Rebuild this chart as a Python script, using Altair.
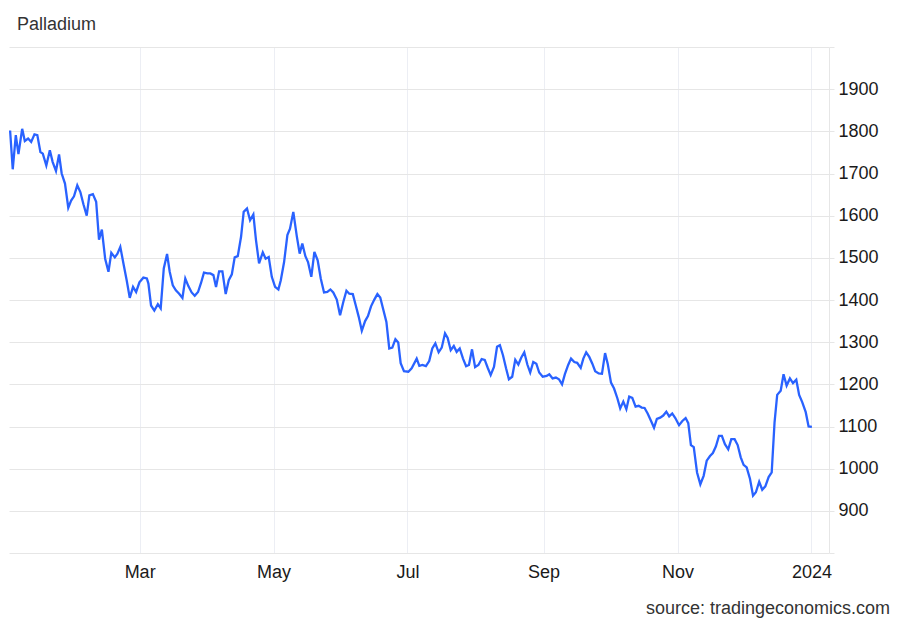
import altair as alt
import pandas as pd

# Day offset from 2023-01-01 and Palladium price (USD/t.oz)
days = [
    0.0, 1.2, 2.6, 3.8, 5.5, 6.7, 8.2, 9.6, 11.1, 12.4, 13.8, 14.9, 16.5, 18.1, 19.4, 20.9,
    22.3, 23.5, 25.0, 26.5, 27.8, 29.1, 30.6, 32.0, 33.4, 34.9, 36.1, 37.7, 39.2, 40.5, 41.8,
    43.3, 44.8, 46.1, 47.7, 48.9, 50.2, 51.8, 53.1, 54.5, 56.0, 57.4, 58.9, 60.7, 62.3, 63.0,
    64.2, 65.7, 67.3, 68.6, 70.0, 71.5, 72.7, 74.1, 75.5, 77.0, 78.5, 79.8, 81.2, 82.7, 84.1,
    85.6, 87.0, 88.3, 89.9, 91.2, 92.6, 93.8, 95.2, 96.7, 98.2, 99.6, 101.0, 102.3, 103.7,
    105.2, 106.4, 107.9, 109.3, 110.8, 112.0, 113.4, 115.1, 116.4, 117.8, 119.2, 120.7, 122.2,
    123.3, 124.8, 126.3, 127.5, 129.0, 130.6, 131.9, 133.1, 134.5, 135.7, 137.2, 138.6, 140.1,
    141.5, 143.0, 144.5, 145.9, 147.2, 148.8, 150.3, 151.8, 153.2, 154.5, 156.1, 157.4, 158.8,
    160.2, 161.7, 163.0, 164.4, 165.9, 167.3, 168.6, 170.0, 171.4, 172.7, 174.1, 175.5, 176.8,
    177.9, 179.4, 181.4, 182.9, 185.2, 186.4, 187.8, 189.4, 190.9, 192.3, 193.7, 195.2, 196.6,
    198.1, 199.3, 200.7, 202.1, 203.4, 204.8, 206.3, 207.7, 209.0, 210.4, 211.8, 213.3, 214.8,
    216.2, 217.5, 218.9, 220.4, 221.8, 223.1, 224.5, 225.9, 227.2, 228.7, 230.1, 231.5, 232.8,
    234.2, 235.6, 236.9, 238.3, 239.7, 241.0, 242.6, 244.4, 245.6, 247.1, 248.6, 250.0, 251.4,
    252.7, 254.2, 255.5, 257.0, 258.3, 259.9, 261.1, 262.4, 263.8, 265.2, 266.5, 268.1, 269.6,
    271.0, 272.2, 273.7, 275.1, 276.6, 277.9, 279.3, 280.7, 282.0, 283.4, 284.9, 286.3, 287.7,
    289.0, 290.4, 291.8, 293.3, 294.6, 296.1, 297.5, 298.9, 300.2, 301.6, 303.0, 304.7, 306.2,
    307.7, 308.9, 310.1, 311.4, 312.9, 314.4, 315.9, 317.3, 318.8, 320.1, 321.5, 322.9, 324.2,
    325.6, 327.1, 328.5, 330.0, 331.4, 332.8, 334.1, 335.5, 337.0, 338.4, 339.7, 341.2, 342.6,
    344.0, 345.5, 346.9, 348.2, 349.4, 351.0, 352.3, 353.7, 355.2, 356.6, 358.1, 359.4, 360.8,
    362.4, 363.7, 365.2,
]
prices = [
    1802, 1710, 1791, 1746, 1806, 1777, 1783, 1775, 1793, 1791, 1751, 1747, 1719, 1755, 1727, 1706,
    1745, 1700, 1676, 1619, 1636, 1646, 1672, 1656, 1627, 1600, 1648, 1651, 1633, 1543, 1567,
    1498, 1467, 1512, 1501, 1510, 1526, 1482, 1447, 1405, 1431, 1419, 1442, 1453, 1451, 1439,
    1387, 1375, 1390, 1380, 1475, 1509, 1467, 1435, 1423, 1415, 1405, 1451, 1433, 1418, 1410,
    1419, 1441, 1465, 1463, 1463, 1459, 1431, 1468, 1468, 1414, 1447, 1461, 1501, 1504,
    1550, 1609, 1617, 1589, 1603, 1542, 1487, 1513, 1498, 1502, 1455, 1431, 1425,
    1447, 1490, 1554, 1569, 1609, 1551, 1510, 1534, 1504, 1490, 1455, 1514, 1494,
    1451, 1418, 1419, 1425, 1418, 1401, 1364, 1396, 1422, 1415, 1414, 1388, 1360,
    1327, 1350, 1362, 1385, 1401, 1414, 1406, 1377, 1348, 1285, 1287, 1307, 1299,
    1250, 1231, 1230, 1238, 1261, 1244, 1246, 1243, 1255, 1285, 1297, 1276, 1287,
    1321, 1310, 1281, 1291, 1277, 1285, 1261, 1243, 1246, 1283, 1241, 1246, 1260,
    1258, 1240, 1222, 1241, 1289, 1293, 1269, 1238, 1212, 1218, 1258, 1247, 1263,
    1276, 1247, 1228, 1253, 1249, 1228, 1218, 1220, 1224, 1214, 1216, 1212, 1200,
    1224, 1246, 1261, 1253, 1251, 1239, 1261, 1276, 1265, 1249, 1231, 1226, 1225,
    1274, 1249, 1204, 1190, 1167, 1143, 1159, 1141, 1171, 1168, 1147, 1149, 1145,
    1144, 1131, 1115, 1097, 1118, 1121, 1126, 1135, 1124, 1131, 1120, 1103, 1113,
    1120, 1108, 1056, 1051, 991, 963, 983, 1019, 1030, 1037, 1053, 1078, 1078,
    1058, 1046, 1070, 1070, 1056, 1027, 1009, 1003, 976, 936, 944, 969, 950,
    958, 980, 991, 1110, 1175, 1185, 1224, 1197, 1214, 1203, 1211, 1175, 1158,
    1134, 1100, 1099,
]

x_tick_dates = ["2023-03-01", "2023-05-01", "2023-07-01", "2023-09-01", "2023-11-01", "2024-01-01"]
x_range = ["2022-12-31T12:00", "2024-01-09T00:00"]
y_ticks = [800, 900, 1000, 1100, 1200, 1300, 1400, 1500, 1600, 1700, 1800, 1900, 2000]
y_range = [800, 2000]
title_text = ["Palladium"]
source_text = ["source: tradingeconomics.com"]

FONT = "Liberation Sans"
TEXT_COLOR = "#333333"


def ms(s):
    return int(pd.Timestamp(s, tz="UTC").timestamp() * 1000)


base = pd.Timestamp("2023-01-01")
dates = [(base + pd.Timedelta(days=d)).strftime("%Y-%m-%dT%H:%M:%SZ") for d in days]
df = pd.DataFrame({"date": dates, "price": prices})

line = alt.Chart(df).mark_line(color="#2962ff", strokeWidth=2.3).encode(
    x=alt.X(
        "date:T",
        scale=alt.Scale(type="utc", domain=[ms(s) for s in x_range]),
        axis=alt.Axis(
            values=[ms(s) for s in x_tick_dates],
            labelExpr="utcFormat(datum.value, '%m') == '01' ? utcFormat(datum.value, '%Y') : utcFormat(datum.value, '%b')",
            grid=True,
            gridColor="#eceef4",
            gridWidth=1,
            domain=False,
            ticks=False,
            labelFont=FONT,
            labelFontSize=18,
            labelColor="#1a1a1a",
            labelPadding=10,
            labelFlush=False,
            labelOverlap=False,
            title=None,
        ),
    ),
    y=alt.Y(
        "price:Q",
        scale=alt.Scale(domain=y_range, nice=False, zero=False),
        axis=alt.Axis(
            orient="right",
            values=y_ticks,
            format="d",
            labelExpr="datum.value < 850 || datum.value > 1950 ? '' : datum.label",
            grid=True,
            gridColor="#e6e6e6",
            gridWidth=1,
            domain=True,
            domainColor="#e6e6e6",
            ticks=True,
            tickSize=5,
            tickColor="#e6e6e6",
            labelFont=FONT,
            labelFontSize=18,
            labelColor="#1a1a1a",
            labelPadding=4,
            labelOverlap=False,
            title=None,
        ),
    ),
)

title = alt.Chart(pd.DataFrame({"t": title_text})).mark_text(
    align="left", baseline="middle", font=FONT, fontSize=18, color=TEXT_COLOR
).encode(text="t:N", x=alt.value(8), y=alt.value(-22))

source = alt.Chart(pd.DataFrame({"t": source_text})).mark_text(
    align="right", baseline="middle", font=FONT, fontSize=18, color=TEXT_COLOR
).encode(text="t:N", x=alt.value(881), y=alt.value(562))

chart = (
    alt.layer(line, title, source)
    .properties(
        width=820,
        height=506,
        autosize=alt.AutoSizeParams(type="none"),
        padding={"left": 1, "top": 39, "right": 66, "bottom": 65},
    )
    .configure_view(stroke=None)
)

chart.save("out.html", embed_options={"renderer": "svg", "actions": False})
